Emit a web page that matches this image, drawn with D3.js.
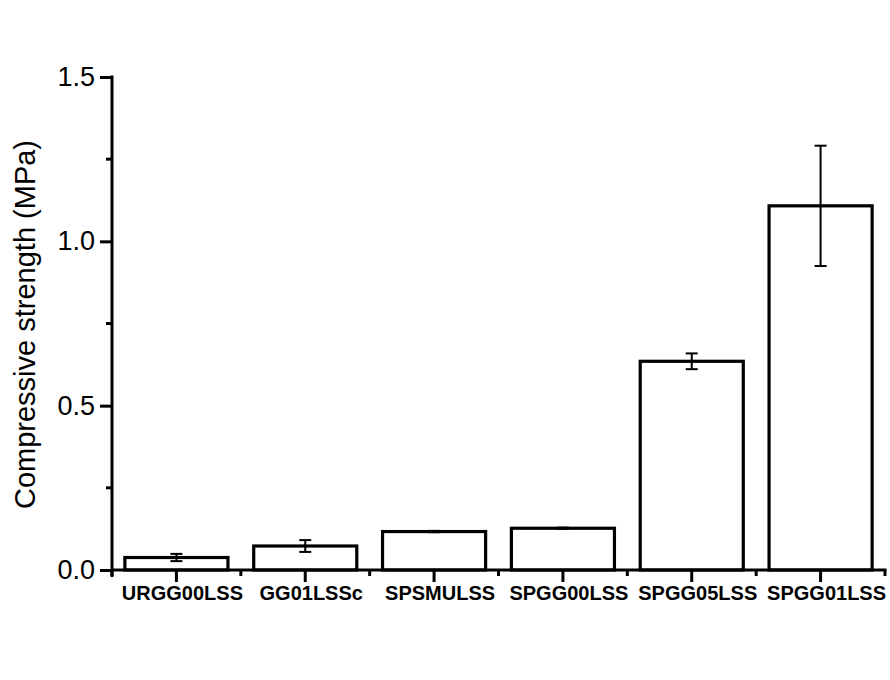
<!DOCTYPE html>
<html>
<head>
<meta charset="utf-8">
<script src="https://cdn.jsdelivr.net/npm/d3@7"></script>
<style>
  body { margin: 0; background: #fff; }
  text { font-family: Arial, "Liberation Sans", sans-serif; fill: #000; }
</style>
</head>
<body>
<svg id="chart"></svg>
<script>
// data
var samples = ["URGG00LSS", "GG01LSSc", "SPSMULSS", "SPGG00LSS", "SPGG05LSS", "SPGG01LSS"];
var strength = [0.038, 0.073, 0.117, 0.127, 0.635, 1.108];
var strengthErr = [0.011, 0.018, 0.002, 0.002, 0.024, 0.183];
var yTicks = [0.0, 0.5, 1.0, 1.5];
var yMinorTicks = [0.25, 0.75, 1.25];

var margin = {top: 77, right: 5, bottom: 110, left: 112},
    width = 890 - margin.left - margin.right,
    height = 680 - margin.top - margin.bottom;

var svg = d3.select("#chart")
    .attr("width", 890)
    .attr("height", 680);
var g = svg.append("g")
    .attr("transform", "translate(" + margin.left + "," + margin.top + ")");

var x = d3.scaleBand()
    .domain(samples)
    .range([0, width])
    .paddingInner(0.2)
    .paddingOuter(0.1);
var y = d3.scaleLinear()
    .domain([0, 1.5])
    .range([height, 0]);

var bandStep = x.step();
var bw = x.bandwidth();

// bars
g.selectAll(".bar")
    .data(samples)
    .enter().append("rect")
    .attr("class", "bar")
    .attr("x", function(d){ return x(d); })
    .attr("y", function(d, i){ return y(strength[i]); })
    .attr("width", bw)
    .attr("height", function(d, i){ return height - y(strength[i]); })
    .style("fill", "#fff")
    .style("stroke", "#000")
    .style("stroke-width", 3.2);

// error bars
var eb = g.selectAll(".err")
    .data(samples)
    .enter().append("g")
    .attr("class", "err")
    .style("stroke", "#000")
    .style("stroke-width", 2);
eb.append("line")
    .attr("x1", function(d){ return x(d) + bw / 2; })
    .attr("x2", function(d){ return x(d) + bw / 2; })
    .attr("y1", function(d, i){ return y(strength[i] + strengthErr[i]); })
    .attr("y2", function(d, i){ return y(strength[i] - strengthErr[i]); });
[1, -1].forEach(function(s){
    eb.append("line")
        .attr("x1", function(d){ return x(d) + bw / 2 - 6; })
        .attr("x2", function(d){ return x(d) + bw / 2 + 6; })
        .attr("y1", function(d, i){ return y(strength[i] + s * strengthErr[i]); })
        .attr("y2", function(d, i){ return y(strength[i] + s * strengthErr[i]); });
});

// y axis
var yAxis = g.append("g")
    .call(d3.axisLeft(y).tickValues(yTicks).tickFormat(d3.format(".1f")).tickSize(12).tickPadding(5));
yAxis.select(".domain").remove();
yAxis.selectAll("line").style("stroke-width", 3);
yAxis.selectAll("text").style("font-size", "27px");
g.append("g").selectAll("line")
    .data(yMinorTicks)
    .enter().append("line")
    .attr("x1", -6).attr("x2", 0)
    .attr("y1", function(d){ return y(d); })
    .attr("y2", function(d){ return y(d); })
    .style("stroke", "#000").style("stroke-width", 3);
g.append("line")
    .attr("x1", 0).attr("x2", 0)
    .attr("y1", y(1.5) - 1.5).attr("y2", height + 7)
    .style("stroke", "#000").style("stroke-width", 3);

// x axis
g.append("line")
    .attr("x1", 0).attr("x2", width + 1.5)
    .attr("y1", height).attr("y2", height)
    .style("stroke", "#000").style("stroke-width", 3);
g.selectAll(".xmaj")
    .data(samples)
    .enter().append("line")
    .attr("class", "xmaj")
    .attr("x1", function(d){ return x(d) + bw / 2; })
    .attr("x2", function(d){ return x(d) + bw / 2; })
    .attr("y1", height).attr("y2", height + 12)
    .style("stroke", "#000").style("stroke-width", 3);
g.selectAll(".xmin")
    .data(d3.range(samples.length + 1))
    .enter().append("line")
    .attr("class", "xmin")
    .attr("x1", function(d){ return d * bandStep; })
    .attr("x2", function(d){ return d * bandStep; })
    .attr("y1", height).attr("y2", height + 6)
    .style("stroke", "#000").style("stroke-width", 3);
g.selectAll(".xlab")
    .data(samples)
    .enter().append("text")
    .attr("class", "xlab")
    .attr("x", function(d){ return x(d) + bw / 2 + 6; })
    .attr("y", height + 30)
    .attr("text-anchor", "middle")
    .style("font-size", "20px")
    .style("font-weight", "bold")
    .text(function(d){ return d; });

// y label
svg.append("text")
    .attr("transform", "translate(35," + (margin.top + height / 2 + 1) + ") rotate(-90)")
    .attr("text-anchor", "middle")
    .style("font-size", "29px")
    .text("Compressive strength (MPa)");
</script>
</body>
</html>
